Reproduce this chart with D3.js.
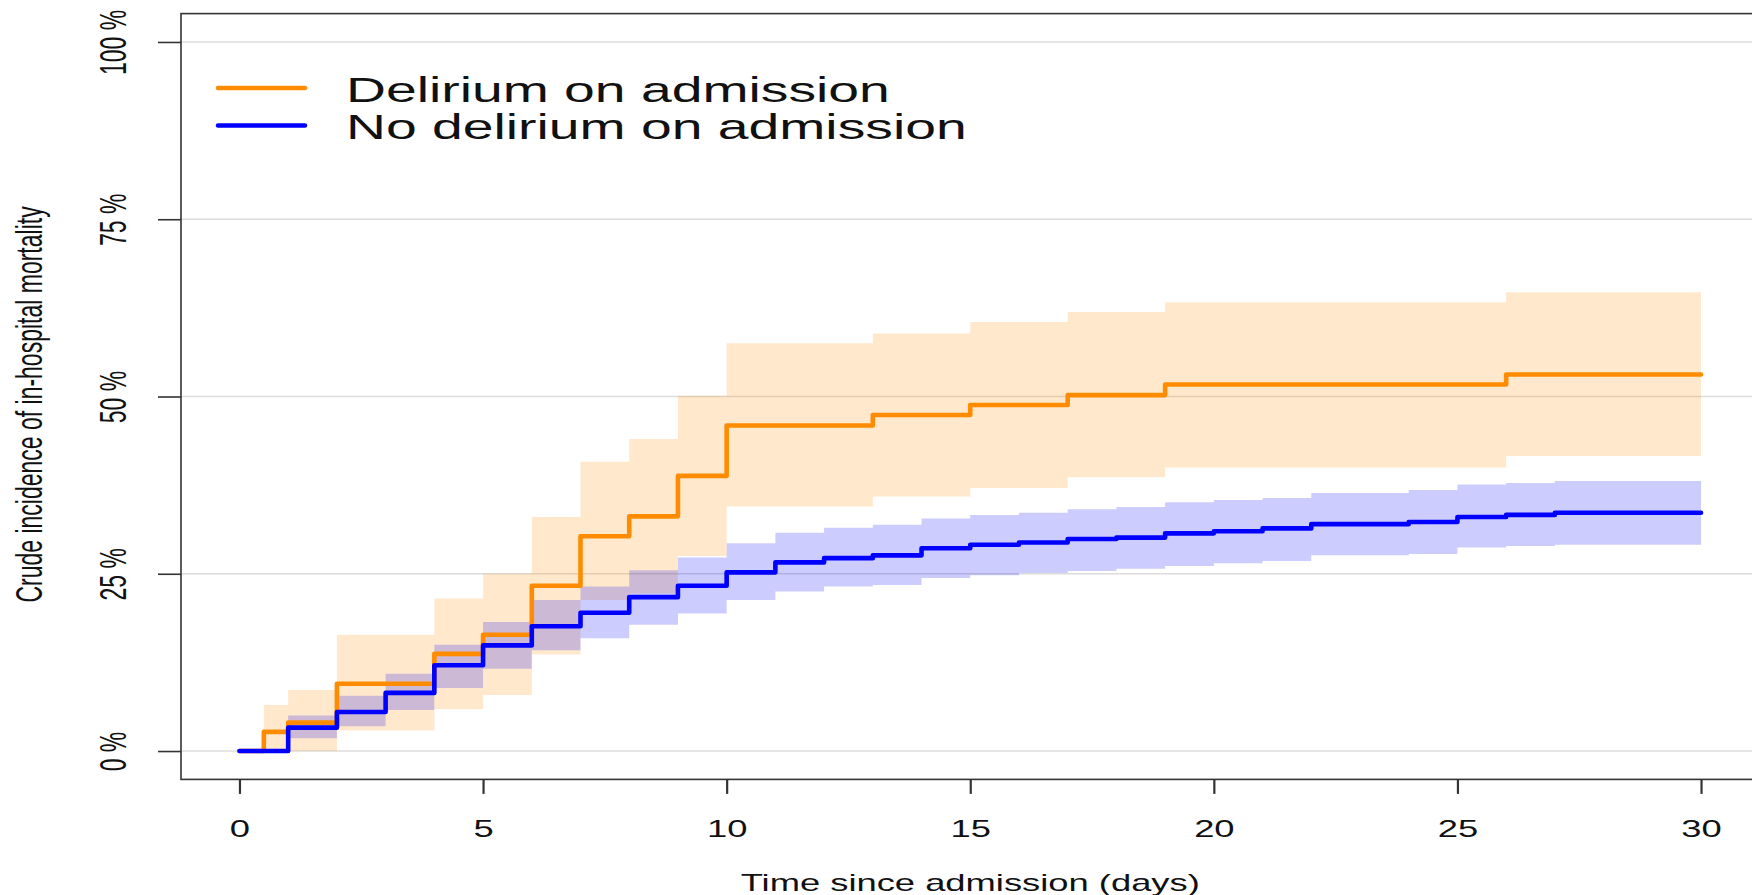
<!DOCTYPE html>
<html>
<head>
<meta charset="utf-8">
<script src="https://cdn.jsdelivr.net/npm/d3@7"></script>
<style>
  body { margin: 0; background: #fff; }
  svg { display: block; font-family: "Liberation Sans", Arial, Helvetica, sans-serif; }
</style>
</head>
<body>
<div class="chart"></div>
<script>
var width = 1752;
var height = 895;

// axis ticks
var xTicks = [0, 5, 10, 15, 20, 25, 30];
var yTicks = [0, 25, 50, 75, 100];
var legendLabels = ["Delirium on admission", "No delirium on admission"];
var xTitle = "Time since admission (days)";
var yTitle = "Crude incidence of in-hospital mortality";

// delirium on admission (step values, % , value holds from time to next time)
var delTime  = [0, 0.5, 1, 2, 4, 5, 6, 7, 8, 9, 10, 13, 15, 17, 19, 26, 30];
var delEst   = [0, 2.7, 4.0, 9.5, 13.7, 16.4, 23.3, 30.3, 33.1, 38.8, 45.9, 47.4, 48.8, 50.2, 51.7, 53.1, 53.1];
var delLower = [0, 0, 0, 2.9, 5.9, 7.9, 13.6, 21.3, 22.2, 27.5, 34.5, 35.9, 37.1, 38.6, 40.0, 41.6, 41.6];
var delUpper = [0, 6.5, 8.6, 16.4, 21.5, 25.0, 33.0, 40.8, 44.0, 50.1, 57.5, 58.9, 60.5, 61.9, 63.3, 64.7, 64.7];

// no delirium on admission
var noTime  = [0, 1, 2, 3, 4, 5, 6, 7, 8, 9, 10, 11, 12, 13, 14, 15, 16, 17, 18, 19, 20, 21, 22, 24, 25, 26, 27, 30];
var noEst   = [0, 3.3, 5.5, 8.2, 12.1, 14.9, 17.6, 19.5, 21.7, 23.3, 25.2, 26.6, 27.2, 27.6, 28.6, 29.1, 29.4, 29.9, 30.1, 30.7, 31.0, 31.4, 32.0, 32.3, 33.0, 33.3, 33.6, 33.6];
var noLower = [0, 1.8, 3.5, 5.8, 8.9, 11.6, 14.2, 15.9, 17.8, 19.4, 21.3, 22.5, 23.2, 23.4, 24.4, 24.8, 25.1, 25.4, 25.7, 26.1, 26.5, 26.8, 27.6, 27.8, 28.7, 28.9, 29.1, 29.1];
var noUpper = [0, 5.0, 7.8, 10.9, 15.0, 18.2, 21.3, 23.2, 25.5, 27.3, 29.3, 30.8, 31.5, 31.9, 32.8, 33.3, 33.6, 34.1, 34.4, 35.1, 35.4, 35.7, 36.4, 36.8, 37.6, 37.8, 38.1, 38.1];

var orange = "#ff8c00";
var blue = "#0000ff";
var sx = 1.58; // the source picture is stretched sideways, texts follow it
var axisFont = 23;

// plot box
var boxLeft = 181, boxRight = 1759.5, boxTop = 13.6, boxBottom = 779.4;

var x = d3.scaleLinear().domain([-1.2, 31.2]).range([boxLeft, boxRight]);
var y = d3.scaleLinear().domain([-4, 104]).range([boxBottom, boxTop]);

function rows(t, est, lo, hi) {
    return t.map((d, i) => ({ t: d, est: est[i], lo: lo[i], hi: hi[i] }));
}
var groups = [
    { name: legendLabels[0], color: orange, data: rows(delTime, delEst, delLower, delUpper) },
    { name: legendLabels[1], color: blue, data: rows(noTime, noEst, noLower, noUpper) }
];

var svg = d3.select(".chart")
    .append("svg")
    .attr("width", width)
    .attr("height", height);

// grid lines
svg.append("g")
    .selectAll("line")
    .data(yTicks)
    .enter()
    .append("line")
    .attr("x1", boxLeft)
    .attr("x2", boxRight)
    .attr("y1", d => y(d))
    .attr("y2", d => y(d))
    .attr("stroke", "#dcdcdc")
    .attr("stroke-width", 1.5);

var band = d3.area()
    .curve(d3.curveStepAfter)
    .x(d => x(d.t))
    .y0(d => y(d.lo))
    .y1(d => y(d.hi));

var step = d3.line()
    .curve(d3.curveStepAfter)
    .x(d => x(d.t))
    .y(d => y(d.est));

// confidence bands
svg.append("g")
    .selectAll("path")
    .data(groups)
    .enter()
    .append("path")
    .attr("d", d => band(d.data))
    .attr("fill", d => d.color)
    .attr("fill-opacity", 0.2);

// step curves
svg.append("g")
    .selectAll("path")
    .data(groups)
    .enter()
    .append("path")
    .attr("d", d => step(d.data))
    .attr("fill", "none")
    .attr("stroke", d => d.color)
    .attr("stroke-width", 4.6)
    .attr("stroke-linejoin", "round")
    .attr("stroke-linecap", "round");

// box
svg.append("rect")
    .attr("x", boxLeft)
    .attr("y", boxTop)
    .attr("width", boxRight - boxLeft)
    .attr("height", boxBottom - boxTop)
    .attr("fill", "none")
    .attr("stroke", "#333")
    .attr("stroke-width", 1.6);

// x axis
var xAxis = svg.append("g")
    .attr("transform", `translate(0,${boxBottom})`)
    .call(d3.axisBottom(x).tickValues(xTicks).tickSize(14.5).tickSizeOuter(0));
xAxis.select(".domain").remove();
xAxis.selectAll("line").attr("stroke", "#333").attr("stroke-width", 2.2);
xAxis.selectAll("text")
    .attr("y", 837 - boxBottom)
    .attr("dy", null)
    .attr("font-size", axisFont)
    .attr("font-family", "Liberation Sans, Arial, sans-serif")
    .attr("fill", "#111")
    .attr("transform", `scale(${sx},1)`);

// y axis
var yAxis = svg.append("g")
    .attr("transform", `translate(${boxLeft},0)`)
    .call(d3.axisLeft(y).tickValues(yTicks).tickSize(23).tickSizeOuter(0).tickFormat(d => d + " %"));
yAxis.select(".domain").remove();
yAxis.selectAll("line").attr("stroke", "#333").attr("stroke-width", 1.6);
yAxis.selectAll("text")
    .attr("x", null)
    .attr("dy", null)
    .attr("text-anchor", "middle")
    .attr("font-size", axisFont)
    .attr("font-family", "Liberation Sans, Arial, sans-serif")
    .attr("fill", "#111")
    .attr("transform", `translate(${126 - boxLeft},0) scale(${sx},1) rotate(-90)`);

// axis titles
svg.append("text")
    .attr("transform", `translate(${(boxLeft + boxRight) / 2},891) scale(${sx},1)`)
    .attr("text-anchor", "middle")
    .attr("font-size", axisFont)
    .attr("fill", "#111")
    .text(xTitle);

svg.append("text")
    .attr("transform", `translate(42,${(boxTop + boxBottom) / 2 + 8}) scale(${sx},1) rotate(-90)`)
    .attr("text-anchor", "middle")
    .attr("font-size", axisFont)
    .attr("fill", "#111")
    .text(yTitle);

// legend
var legend = svg.append("g")
    .selectAll("g")
    .data(groups)
    .enter()
    .append("g")
    .attr("transform", (d, i) => `translate(0,${88 + i * 37.5})`);
legend.append("line")
    .attr("x1", 218)
    .attr("x2", 305)
    .attr("stroke", d => d.color)
    .attr("stroke-width", 4.5)
    .attr("stroke-linecap", "round");
legend.append("text")
    .attr("transform", `translate(346,13.5) scale(${sx},1)`)
    .attr("font-size", 35)
    .attr("fill", "#111")
    .text(d => d.name);
</script>
</body>
</html>
